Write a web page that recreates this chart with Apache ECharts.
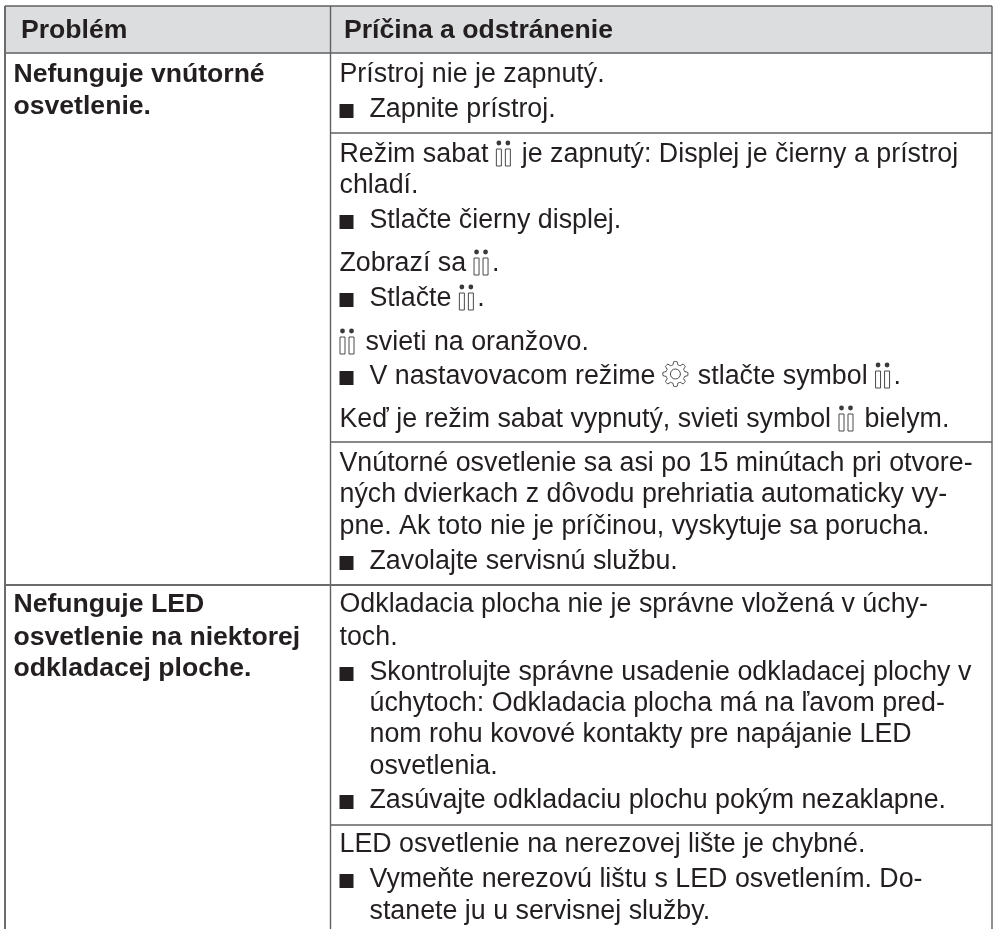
<!DOCTYPE html>
<html><head><meta charset="utf-8">
<style>html,body{margin:0;padding:0;background:#fff}#c{width:994px;height:929px}</style>
<script src="https://cdn.jsdelivr.net/npm/echarts@6/dist/echarts.min.js"></script>
</head><body><div id="c"></div>
<script>
const headers = ["Problém", "Príčina a odstránenie"];
const problems = ["Nefunguje vnútorné", "osvetlenie.", "Nefunguje LED", "osvetlenie na niektorej", "odkladacej ploche."];
const causes = [
  "Prístroj nie je zapnutý.",
  "■Zapnite prístroj.",
  "Režim sabat {s} je zapnutý: Displej je čierny a prístroj",
  "chladí.",
  "■Stlačte čierny displej.",
  "Zobrazí sa {s}.",
  "■Stlačte {s}.",
  "{s} svieti na oranžovo.",
  "■V nastavovacom režime {g} stlačte symbol {s}.",
  "Keď je režim sabat vypnutý, svieti symbol {s} bielym.",
  "Vnútorné osvetlenie sa asi po 15 minútach pri otvore-",
  "ných dvierkach z dôvodu prehriatia automaticky vy-",
  "pne. Ak toto nie je príčinou, vyskytuje sa porucha.",
  "■Zavolajte servisnú službu.",
  "Odkladacia plocha nie je správne vložená v úchy-",
  "toch.",
  "■Skontrolujte správne usadenie odkladacej plochy v",
  "»úchytoch: Odkladacia plocha má na ľavom pred-",
  "»nom rohu kovové kontakty pre napájanie LED",
  "»osvetlenia.",
  "■Zasúvajte odkladaciu plochu pokým nezaklapne.",
  "LED osvetlenie na nerezovej lište je chybné.",
  "■Vymeňte nerezovú lištu s LED osvetlením. Do-",
  "»stanete ju u servisnej služby."
];
// layout (page pixels, mapped through hidden axes); y values are text baselines
const problemY = [83, 115, 613, 646, 677];
const causeY = [83, 118, 163, 194, 229, 272, 307, 351, 385, 428, 472, 503, 535, 570, 613, 646, 681, 712, 743, 775, 809, 853, 888, 920];
const headerY = 39;
const colX = [5, 330.5, 992];
const ruleY = [6, 53];
const sepFull = [585];
const sepRight = [133, 442, 825];
const FONT = 'Liberation Sans';
const SIZE = 26.8, BOLD = 26.6;
const INK = '#231f20';
const RULE = '#5f6062';

const meas = document.createElement('canvas').getContext('2d');
function width(t) { meas.font = SIZE + 'px "' + FONT + '"'; return meas.measureText(t).width; }

function textEl(x, y, t, bold) {
  const s = bold ? BOLD : SIZE;
  return { type: 'text', style: { x, y: y - 0.3 * s, text: t, fill: INK, fontFamily: FONT, fontSize: s, fontWeight: bold ? 'bold' : 'normal', align: 'left', verticalAlign: 'middle' } };
}
function candle(x, y) {
  const s = { stroke: '#4a4a4c', lineWidth: 1, fill: 'none' }, d = { fill: '#3a3a3c' };
  return [
    { type: 'rect', shape: { x: x + 0.5, y: y - 14, width: 5, height: 17 }, style: s },
    { type: 'rect', shape: { x: x + 9.5, y: y - 14, width: 5, height: 17 }, style: s },
    { type: 'circle', shape: { cx: x + 3, cy: y - 20, r: 2.4 }, style: d },
    { type: 'circle', shape: { cx: x + 12, cy: y - 20, r: 2.4 }, style: d }
  ];
}
function gear(x, y) {
  const cx = x + 12.5, cy = y - 11, pts = [];
  for (let i = 0; i < 48; i++) {
    const a = i / 48 * Math.PI * 2, ph = (i % 6);
    const r = (ph < 2 || ph === 5) ? 12.5 : 9.5;
    pts.push([cx + r * Math.cos(a), cy + r * Math.sin(a)]);
  }
  return [
    { type: 'polygon', shape: { points: pts, smooth: 0.3 }, style: { stroke: '#4a4a4c', lineWidth: 1, fill: 'none' } },
    { type: 'circle', shape: { cx, cy, r: 5 }, style: { stroke: '#4a4a4c', lineWidth: 1, fill: 'none' } }
  ];
}
function lineEls(x0, y, raw) {
  const out = [];
  let x = x0, t = raw;
  if (t[0] === '■') {
    out.push({ type: 'rect', shape: { x: x0, y: y - 14, width: 14, height: 14 }, style: { fill: INK } });
    x = x0 + 30; t = t.slice(1);
  } else if (t[0] === '»') { x = x0 + 30; t = t.slice(1); }
  t.split(/(\{s\}|\{g\})/).forEach(p => {
    if (p === '{s}') { out.push(...candle(x, y)); x += 18.5; }
    else if (p === '{g}') { out.push(...gear(x, y)); x += 27.5; }
    else if (p) { out.push(textEl(x, y, p)); x += width(p); }
  });
  return out;
}
function rule(width, color) {
  return function (p, api) {
    const a = api.coord([api.value(0), api.value(1)]), b = api.coord([api.value(2), api.value(3)]);
    return { type: 'line', shape: { x1: a[0], y1: a[1], x2: b[0], y2: b[1] }, style: { stroke: color, lineWidth: width } };
  };
}
const custom = (data, renderItem) => ({ type: 'custom', coordinateSystem: 'cartesian2d', silent: true, clip: false, data, renderItem });
const option = {
  animation: false,
  backgroundColor: '#fff',
  grid: { left: 0, right: 0, top: 0, bottom: 0 },
  xAxis: { type: 'value', min: 0, max: 994, show: false },
  yAxis: { type: 'value', min: 0, max: 929, inverse: true, show: false },
  series: [
    custom([[colX[0], ruleY[0], colX[2], ruleY[1]]], (p, api) => {
      const a = api.coord([api.value(0), api.value(1)]), b = api.coord([api.value(2), api.value(3)]);
      return { type: 'rect', shape: { x: a[0], y: a[1], width: b[0] - a[0], height: b[1] - a[1] }, style: { fill: '#dcddde' } };
    }),
    custom([
      [colX[0], ruleY[0], colX[2], ruleY[0]], [colX[0], ruleY[1], colX[2], ruleY[1]],
      [colX[1], ruleY[0], colX[1], 929], [colX[2], ruleY[0], colX[2], 929],
      ...sepRight.map(y => [colX[1], y, colX[2], y])
    ], rule(1.4, RULE)),
    custom([
      [colX[0], ruleY[0], colX[0], 929],
      ...sepFull.map(y => [colX[0], y, colX[2], y])
    ], rule(2, '#6b6c6e')),
    custom(headers.map((h, i) => [[21, 344][i], headerY, i]), (p, api) => {
      const a = api.coord([api.value(0), api.value(1)]);
      return { type: 'group', children: [textEl(a[0], a[1], headers[api.value(2)], true)] };
    }),
    custom(problems.map((h, i) => [13.5, problemY[i], i]), (p, api) => {
      const a = api.coord([api.value(0), api.value(1)]);
      return { type: 'group', children: [textEl(a[0], a[1], problems[api.value(2)], true)] };
    }),
    custom(causes.map((h, i) => [339.5, causeY[i], i]), (p, api) => {
      const a = api.coord([api.value(0), api.value(1)]);
      return { type: 'group', children: lineEls(a[0], a[1], causes[api.value(2)]) };
    })
  ]
};
echarts.init(document.getElementById('c'), null, { renderer: 'canvas' }).setOption(option);
</script></body></html>
